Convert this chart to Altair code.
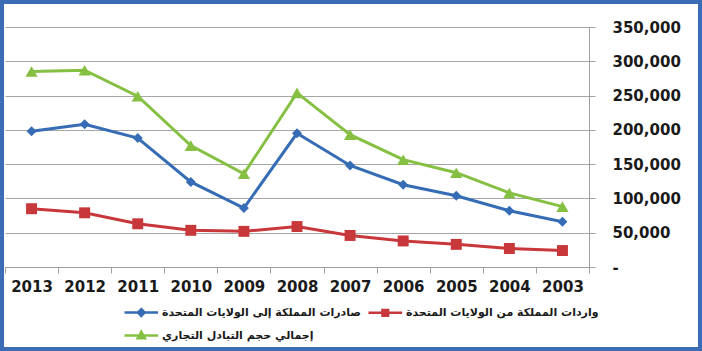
import altair as alt
import pandas as pd

years = ["2013", "2012", "2011", "2010", "2009", "2008", "2007", "2006", "2005", "2004", "2003"]
exports = [198000, 208000, 188000, 124000, 86000, 195000, 148000, 120000, 104000, 82000, 66000]
imports = [85000, 79000, 63000, 53500, 52000, 59000, 46000, 38000, 33000, 27000, 24000]
total = [285000, 287000, 249000, 177000, 136000, 254000, 193000, 156500, 137500, 108000, 88000]
y_ticks = [0, 50000, 100000, 150000, 200000, 250000, 300000, 350000]

s_exp = "صادرات المملكة إلى الولايات المتحدة"
s_imp = "واردات المملكة من الولايات المتحدة"
s_tot = "إجمالي حجم التبادل التجاري"
series_names = [s_exp, s_imp, s_tot]
colors = ["#356cb5", "#c8373a", "#85c043"]
marker_shapes = ["diamond", "square", "triangle-up"]
marker_sizes = [100, 120, 150]

rows = []
for name, vals in zip(series_names, [exports, imports, total]):
    for y, v in zip(years, vals):
        rows.append({"year": y, "series": name, "value": v})
df = pd.DataFrame(rows)

x_enc = alt.X("year:N", sort=years, bandPosition=0.5,
              scale=alt.Scale(type="band", paddingInner=0, paddingOuter=0),
              axis=alt.Axis(title=None, labelAngle=0, tickBand="extent", grid=False,
                            domainColor="#a0a0a0", tickColor="#a0a0a0", tickSize=6,
                            labelFont="DejaVu Sans", labelFontWeight="bold", labelFontSize=15,
                            labelColor="#1a1a1a", labelPadding=6))
y_enc = alt.Y("value:Q", scale=alt.Scale(domain=[0, 350000], nice=False),
              axis=alt.Axis(title=None, orient="right", values=y_ticks, tickCount=8,
                            labelOverlap=False, labelFlush=False,
                            labelExpr="datum.value == 0 ? '-' : format(datum.value, ',')",
                            grid=True, gridColor="#a6a6a6", gridWidth=1.2, domainColor="#a0a0a0",
                            tickColor="#a0a0a0", tickSize=6, labelPadding=17,
                            labelFont="DejaVu Sans", labelFontWeight="bold", labelFontSize=15,
                            labelColor="#1a1a1a", labelAlign="left"))

p_d = "M-1,0H3.2M1.1,-0.42L1.52,0L1.1,0.42L0.68,0Z"
p_s = "M-1,0H3.2M0.75,-0.35H1.45V0.35H0.75Z"
p_t = "M-1,0H3.2M1.1,-0.45L1.55,0.35L0.65,0.35Z"
shape_sig = ("datum.value == '" + s_exp + "' ? '" + p_d + "' : (datum.value == '" + s_imp +
             "' ? '" + p_s + "' : '" + p_t + "')")

legend = alt.Legend(title=None, orient="none", legendX=118, legendY=276, columns=2,
                    direction="horizontal", symbolSize=256, symbolStrokeWidth=2.5,
                    symbolType={"expr": shape_sig},
                    symbolStrokeColor={"expr": "scale('color', datum.value)"},
                    symbolFillColor={"expr": "scale('color', datum.value)"},
                    symbolOpacity=1,
                    labelFont="DejaVu Sans", labelFontWeight="bold", labelFontSize=11,
                    labelColor="#1a1a1a", labelOffset=20, columnPadding=2, rowPadding=5,
                    labelLimit=400, padding=0)

base = alt.Chart(df)
lines = base.mark_line(strokeWidth=3).encode(
    x=x_enc, y=y_enc,
    color=alt.Color("series:N", scale=alt.Scale(domain=series_names, range=colors), legend=legend))

pts = []
for name, col, shp, sz in zip(series_names, colors, marker_shapes, marker_sizes):
    pts.append(base.transform_filter(alt.datum.series == name)
               .mark_point(shape=shp, size=sz, filled=True, color=col, opacity=1)
               .encode(x=x_enc, y=y_enc))

frame = alt.Chart(alt.Data(values=[{"a": 1}])).mark_rect(
    filled=False, stroke="#3a6db5", strokeWidth=4).encode(
    x=alt.value(-3), x2=alt.value(695), y=alt.value(-25), y2=alt.value(322))

chart = alt.layer(lines, *pts, frame).properties(
    width=584, height=240,
    autosize=alt.AutoSizeParams(type="none"),
    padding={"left": 5, "top": 27, "right": 113, "bottom": 84},
    background="white",
).configure_view(strokeWidth=0)

chart.save("out.html", embed_options={"renderer": "svg", "actions": False})
